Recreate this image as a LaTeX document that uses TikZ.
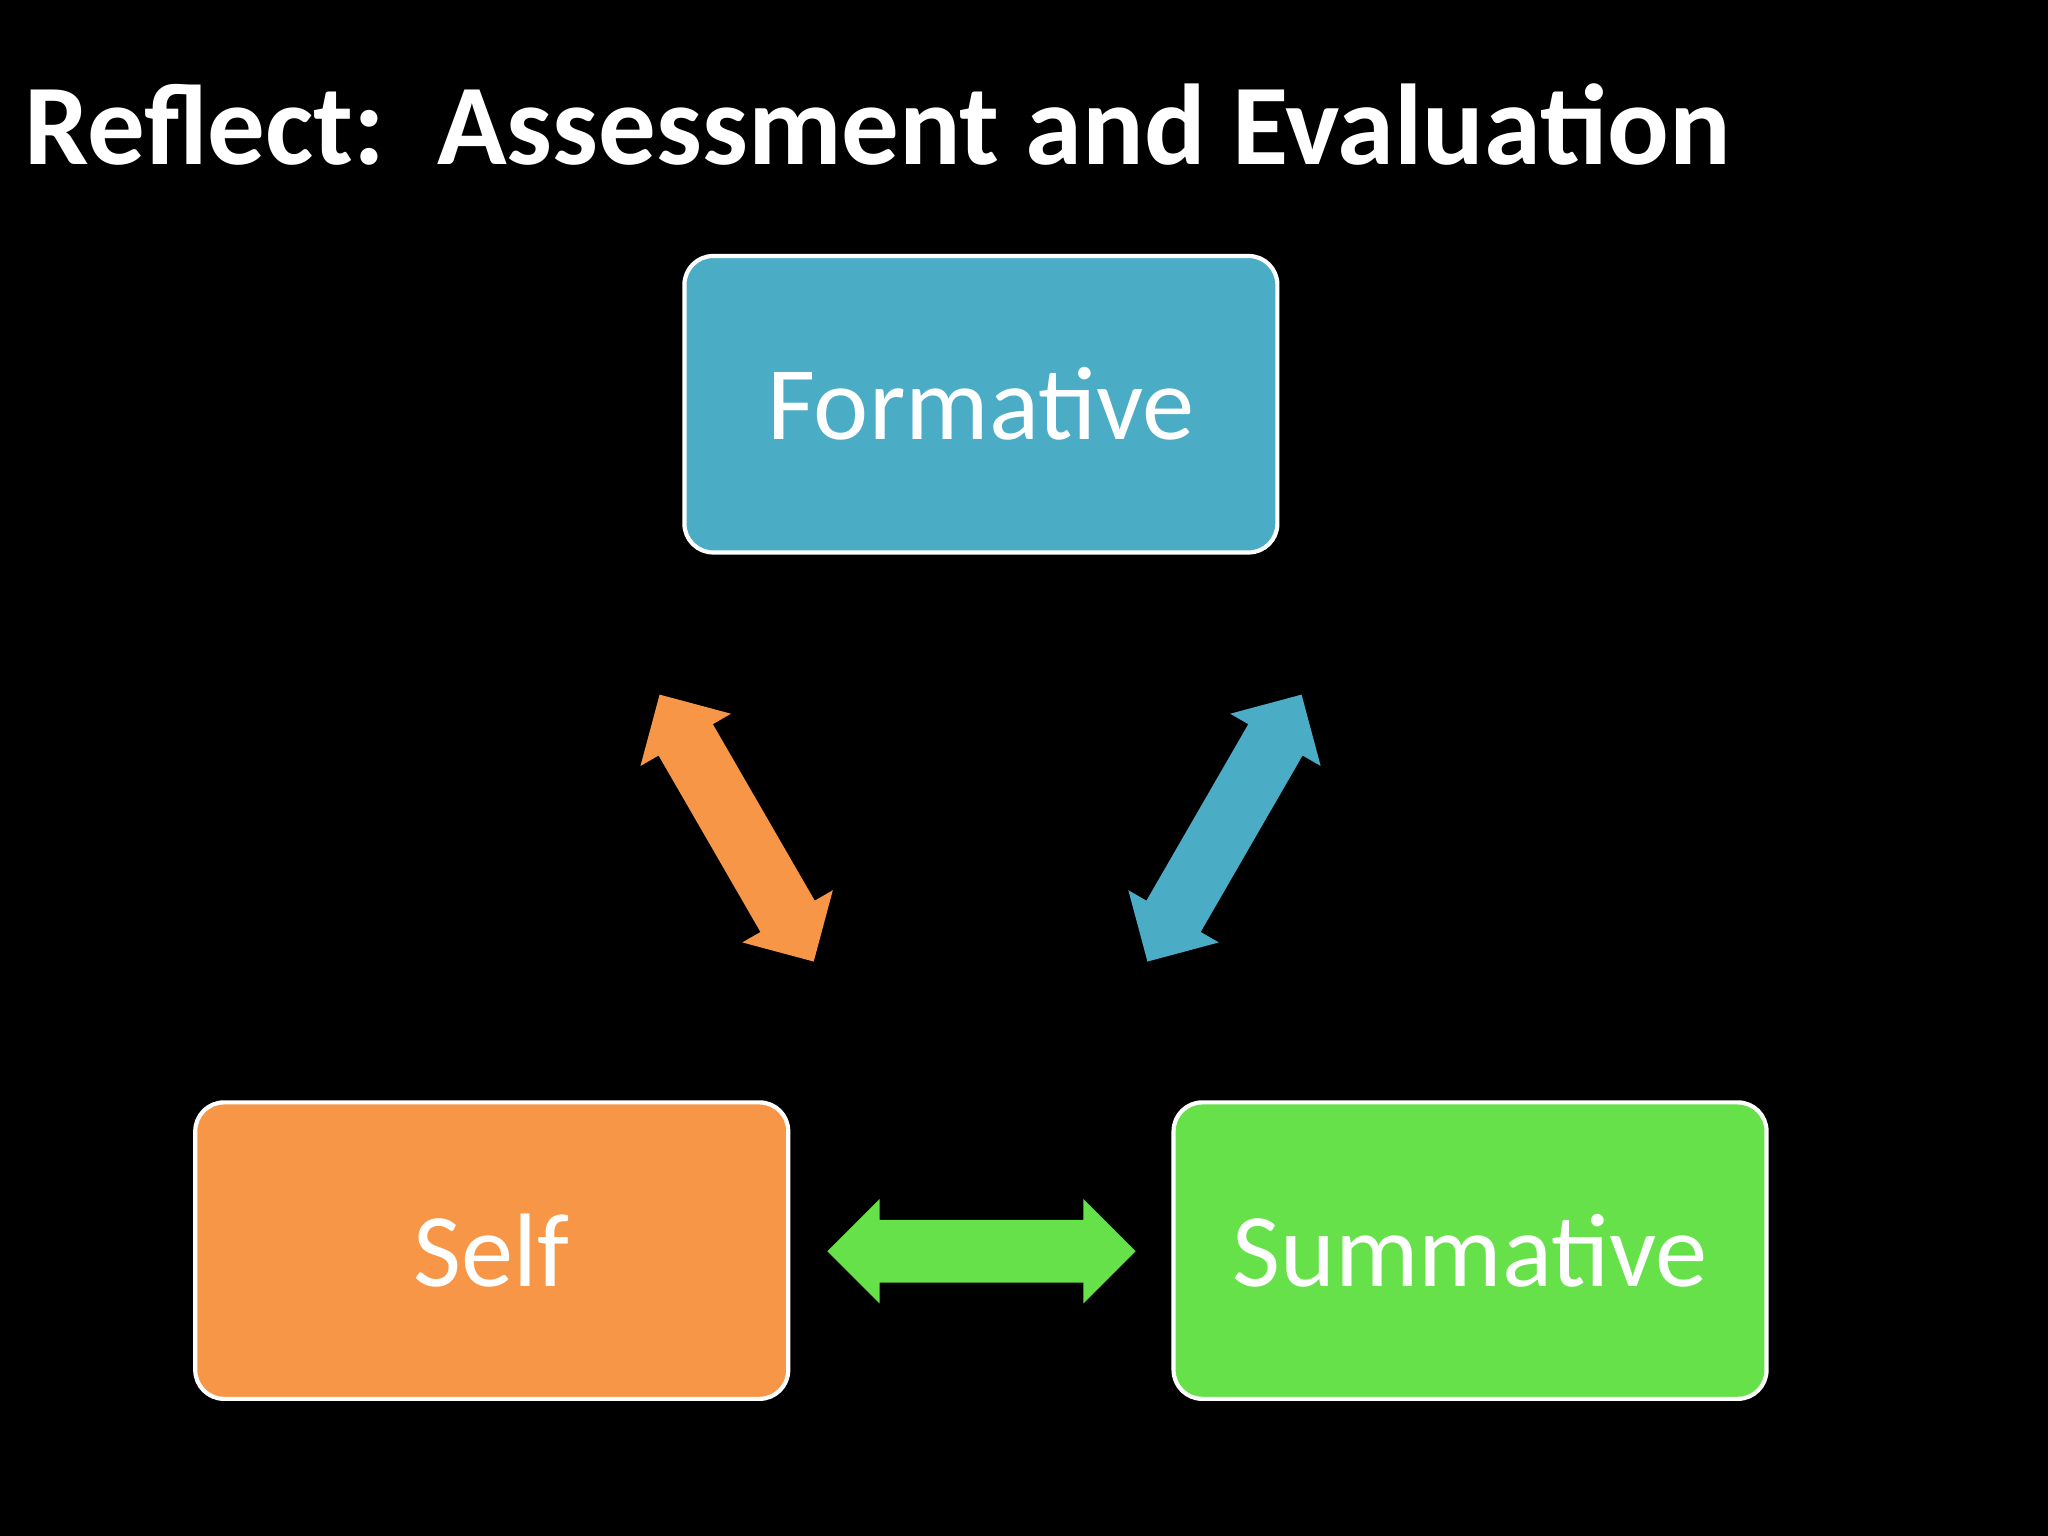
\documentclass[tikz,border=0pt]{standalone}
\usepackage{fontspec}
\setmainfont{Carlito}
\definecolor{cblue}{HTML}{4BACC6}
\definecolor{corange}{HTML}{F79646}
\definecolor{cgreen}{HTML}{66E14A}
\begin{document}
\begin{tikzpicture}[x=0.5pt,y=-0.5pt,
  box/.style={draw=white,line width=1.6pt,rounded corners=11pt,minimum width=227pt,minimum height=113.5pt,text=white,font=\fontsize{40}{48}\selectfont,inner sep=0pt},
  dblarrow/.pic={\fill (-118,0)--(-78,40)--(-78,24)--(78,24)--(78,40)--(118,0)--(78,-40)--(78,-24)--(-78,-24)--(-78,-40)--cycle;}]
\fill[black] (0,0) rectangle (1568,1176);
\useasboundingbox (0,0) rectangle (1568,1176);
\node[anchor=base west,text=white,font=\bfseries\fontsize{44}{52}\selectfont,inner sep=0pt] (title) at (18,126) {Reflect:\ \ Assessment and Evaluation};
\node[box,fill=cblue] (form) at (751,309.5) {Formative};
\node[box,fill=corange] (self) at (376.5,957.5) {Self};
\node[box,fill=cgreen] (summ) at (1125.5,957.5) {Summative};
\pic[corange,rotate=-60] at (564,634) {dblarrow};
\pic[cblue,rotate=60] at (937.5,634) {dblarrow};
\pic[cgreen] at (751.5,958) {dblarrow};
\end{tikzpicture}
\end{document}
